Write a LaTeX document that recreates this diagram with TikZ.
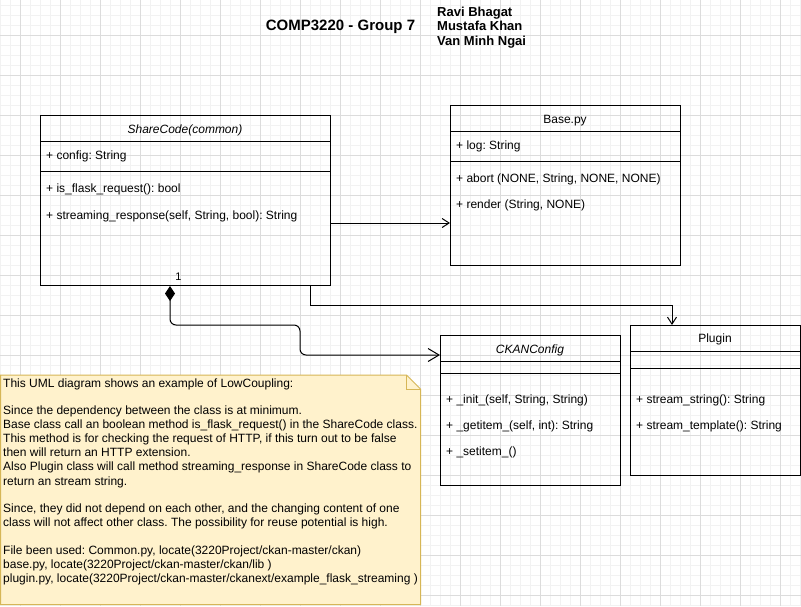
\documentclass[tikz,border=0pt]{standalone}
\usepackage{fontspec}
\setmainfont{Liberation Sans}
\usetikzlibrary{arrows.meta}
\definecolor{gridmajor}{HTML}{DCDCDC}
\definecolor{gridminor}{HTML}{F2F2F2}
\definecolor{notefill}{HTML}{FFF2CC}
\definecolor{noteline}{HTML}{D6B656}
\frenchspacing
\begin{document}
\begin{tikzpicture}[x=1pt,y=-1pt,
  classbox/.style={draw=black, line width=1pt, anchor=north west, inner sep=0pt},
  member/.style={anchor=base west, inner sep=0pt, font=\fontsize{12}{14}\selectfont},
  header/.style={anchor=base, inner sep=0pt, font=\fontsize{12}{14}\selectfont},
  sepline/.style={line width=1pt},
  conn/.style={line width=1pt, draw=black},
  openarrow/.style={-{Straight Barb[length=7pt,width=9pt,line width=1pt]}},
  comparrow/.style={{Diamond[length=15pt,width=10pt]}-{Straight Barb[length=11pt,width=13pt,line width=1pt]}},
  minorgrid/.style={draw=gridminor, line width=0.8pt},
  majorgrid/.style={draw=gridmajor, line width=0.8pt},
  notetext/.style={anchor=north west, inner sep=0pt, align=left, font=\fontsize{12}{14.1}\selectfont},
]
\useasboundingbox (0,0) rectangle (801,606);
\fill[white] (0,0) rectangle (801,606);
% grid
\foreach \x in {0,10,...,800} \draw[minorgrid] (\x,0) -- (\x,606);
\foreach \y in {5,15,...,605} \draw[minorgrid] (0,\y) -- (801,\y);
\foreach \x in {20,60,...,780} \draw[majorgrid] (\x,0) -- (\x,606);
\foreach \y in {35,75,...,595} \draw[majorgrid] (0,\y) -- (801,\y);

% title
\node[anchor=base, inner sep=0pt, font=\bfseries\fontsize{15}{18}\selectfont] (title) at (340.5,30.5) {COMP3220 - Group 7};
\node[anchor=base west, inner sep=0pt, font=\bfseries\fontsize{13}{15}\selectfont] (n1) at (437,16) {Ravi Bhagat};
\node[anchor=base west, inner sep=0pt, font=\bfseries\fontsize{13}{15}\selectfont] (n2) at (437,30.5) {Mustafa Khan};
\node[anchor=base west, inner sep=0pt, font=\bfseries\fontsize{13}{15}\selectfont] (n3) at (437,45.5) {Van Minh Ngai};

% ShareCode
\node[classbox, minimum width=290pt, minimum height=170pt] (share) at (40,115) {};
\draw[sepline] (40,141) -- (330,141);
\draw[sepline] (40,171) -- (330,171);
\node[header, font=\itshape\fontsize{12}{14}\selectfont] (shareh) at (185,133) {ShareCode(common)};
\node[member] (sa1) at (46,159) {+ config: String};
\node[member] (sm1) at (46,192) {+ is\_flask\_request(): bool};
\node[member] (sm2) at (46,219) {+ streaming\_response(self, String, bool): String};

% Base.py
\node[classbox, minimum width=230pt, minimum height=160pt] (base) at (450,105) {};
\draw[sepline] (450,131) -- (680,131);
\draw[sepline] (450,161) -- (680,161);
\node[header] (baseh) at (565,123) {Base.py};
\node[member] (ba1) at (456,149) {+ log: String};
\node[member] (bm1) at (456,182) {+ abort (NONE, String, NONE, NONE)};
\node[member] (bm2) at (456,208.5) {+ render (String, NONE)};

% CKANConfig
\node[classbox, minimum width=180pt, minimum height=150pt] (ckan) at (440,335) {};
\draw[sepline] (440,361) -- (620,361);
\draw[sepline] (440,373) -- (620,373);
\node[header, font=\itshape\fontsize{12}{14}\selectfont] (ckanh) at (530,353) {CKANConfig};
\node[member] (cm1) at (446,403) {+ \_init\_(self, String, String)};
\node[member] (cm2) at (446,429) {+ \_getitem\_(self, int): String};
\node[member] (cm3) at (446,455.5) {+ \_setitem\_()};

% Plugin
\node[classbox, minimum width=170pt, minimum height=150pt] (plugin) at (630,325) {};
\draw[sepline] (630,351) -- (800,351);
\draw[sepline] (630,368) -- (800,368);
\node[header] (pluginh) at (715,342.5) {Plugin};
\node[member] (pm1) at (636,403) {+ stream\_string(): String};
\node[member] (pm2) at (636,429) {+ stream\_template(): String};

% connectors
\coordinate (yb) at (0,223);
\draw[conn, openarrow] (share.east |- yb) -- (base.west |- yb);

\coordinate (xp) at (310,0);
\coordinate (yp) at (0,305);
\coordinate (xpl) at (672,0);
\draw[conn, openarrow] (share.south -| xp) -- (xp |- yp) -- (xpl |- yp) -- (plugin.north -| xpl);

\coordinate (xd) at (170,0);
\coordinate (yc1) at (0,325);
\coordinate (xm) at (300,0);
\coordinate (yc2) at (0,355);
\draw[conn, comparrow, rounded corners=6pt] (share.south -| xd) -- (xd |- yc1) -- (xm |- yc1) -- (xm |- yc2) -- (ckan.west |- yc2);
\node[anchor=base, inner sep=0pt, font=\fontsize{11}{13}\selectfont] (one) at (178.5,280.5) {1};

% note
\draw[fill=notefill, draw=noteline, line width=1pt] (0.5,375) -- (406.5,375) -- (420.5,389) -- (420.5,604.5) -- (0.5,604.5) -- cycle;
\draw[draw=noteline, line width=1pt] (406.5,375) -- (406.5,389) -- (420.5,389);
\node[notetext] (note) at (3,378.5) {This UML diagram shows an example of LowCoupling:\\[13pt]
Since the dependency between the class is at minimum.\\
Base class call an boolean method is\_flask\_request() in the ShareCode class.\\
This method is for checking the request of HTTP, if this turn out to be false\\
then will return an HTTP extension.\\
Also Plugin class will call method streaming\_response in ShareCode class to\\
return an stream string.\\[13pt]
Since, they did not depend on each other, and the changing content of one\\
class will not affect other class. The possibility for reuse potential is high.\\[14pt]
File been used: Common.py, locate(3220Project/ckan-master/ckan)\\
base.py, locate(3220Project/ckan-master/ckan/lib )\\
plugin.py, locate(3220Project/ckan-master/ckanext/example\_flask\_streaming )};
\end{tikzpicture}
\end{document}
